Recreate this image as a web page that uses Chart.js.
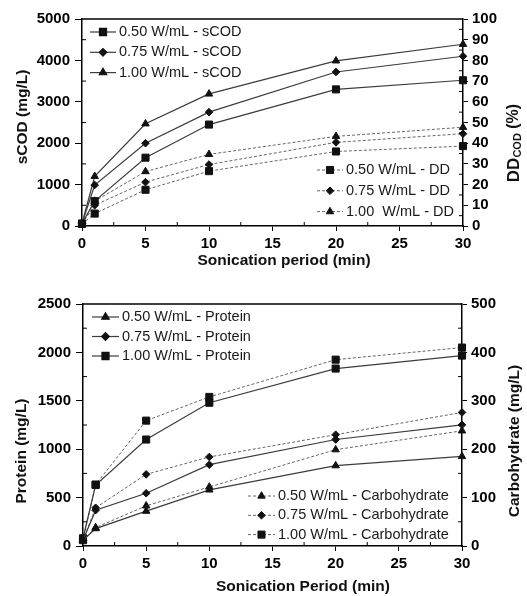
<!DOCTYPE html>
<html>
<head>
<meta charset="utf-8">
<script src="https://cdn.jsdelivr.net/npm/chart.js@4.4.0/dist/chart.umd.min.js"></script>
<style>
  body { margin: 0; background: #fff; }
  canvas { display: block; }
</style>
</head>
<body>
<canvas id="codCanvas" width="527" height="290"></canvas>
<canvas id="protCanvas" width="527" height="306"></canvas>
<script>
const minutes = [0, 1, 5, 10, 20, 30];

// top panel: soluble COD (mg/L) and degree of disintegration (%)
const scod050 = [60, 600, 1650, 2450, 3300, 3520];
const scod075 = [60, 990, 2000, 2750, 3720, 4100];
const scod100 = [60, 1200, 2470, 3190, 3990, 4390];
const dd050 = [1, 6, 17.5, 26.5, 36, 38.6];
const dd075 = [1, 10, 21.2, 29.7, 40.4, 44.6];
const dd100 = [1, 12, 26.3, 34.6, 43.3, 47.7];

// bottom panel: protein and carbohydrate (mg/L)
const prot050 = [60, 180, 360, 580, 830, 925];
const prot075 = [60, 370, 545, 840, 1100, 1252];
const prot100 = [80, 630, 1100, 1480, 1833, 1967];
const carb050 = [12, 38, 83, 122, 199, 238];
const carb075 = [12, 79, 148, 184, 230, 276];
const carb100 = [12, 127, 259, 308, 385, 410];

const codTicks = { left: [0, 5000, 1000], right: [0, 100, 10] };
const protTicks = { left: [0, 2500, 500], right: [0, 500, 100] };

const FONT = '"Liberation Sans", Arial, sans-serif';

const pts = arr => minutes.map((m, i) => ({ x: m, y: arr[i] }));

const series = function(label, arr, shape, dotted, axis){
	const radius = shape === 'rect' ? 5 : (shape === 'rectRot' ? 3.8 : 4.3);
	return {
		label: label,
		data: pts(arr),
		yAxisID: axis,
		borderColor: dotted ? '#666' : '#3c3c3c',
		borderWidth: dotted ? 1 : 1.2,
		borderDash: dotted ? [3, 2] : [],
		pointStyle: shape,
		pointRadius: radius,
		pointHoverRadius: radius,
		pointBackgroundColor: '#111',
		pointBorderColor: '#111',
		pointBorderWidth: 1,
		tension: 0,
		clip: false
	};
};

// the two legend blocks, the box round the plot and the half-step ticks
const decorPlugin = {
	id: 'decor',
	afterDatasetsDraw(chart, args, opts) {
		const ctx = chart.ctx;
		const area = chart.chartArea;

		ctx.save();
		ctx.strokeStyle = '#000';
		ctx.lineWidth = 1.5;
		ctx.beginPath();
		ctx.moveTo(area.left, area.top);
		ctx.lineTo(area.right, area.top);
		ctx.stroke();

		ctx.lineWidth = 1;
		opts.minor.forEach(m => {
			const sc = chart.scales[m.id];
			for (let v = sc.min + m.step / 2; v < sc.max; v += m.step) {
				const p = sc.getPixelForValue(v);
				ctx.beginPath();
				if (m.id === 'x') { ctx.moveTo(p, area.bottom); ctx.lineTo(p, area.bottom - 4); }
				else if (m.id === 'y') { ctx.moveTo(area.left, p); ctx.lineTo(area.left + 4, p); }
				else { ctx.moveTo(area.right, p); ctx.lineTo(area.right - 4, p); }
				ctx.stroke();
			}
		});
		ctx.restore();

		opts.legends.forEach(g => {
			g.items.forEach((idx, i) => {
				const ds = chart.data.datasets[idx];
				const y = g.y + i * g.gap;
				ctx.save();
				ctx.strokeStyle = ds.borderColor;
				ctx.lineWidth = ds.borderWidth;
				ctx.setLineDash(ds.borderDash);
				ctx.beginPath();
				ctx.moveTo(g.x, y);
				ctx.lineTo(g.x + g.len, y);
				ctx.stroke();
				ctx.setLineDash([]);
				ctx.fillStyle = ds.pointBackgroundColor;
				ctx.strokeStyle = ds.pointBorderColor;
				Chart.helpers.drawPoint(ctx, { pointStyle: ds.pointStyle, radius: ds.pointRadius, borderWidth: 1, rotation: 0 }, g.x + g.len / 2, y);
				ctx.fillStyle = '#1a1a1a';
				ctx.font = '14.5px ' + FONT;
				ctx.textBaseline = 'middle';
				ctx.textAlign = 'left';
				ctx.fillText(ds.label, g.x + g.len + 3, y);
				ctx.restore();
			});
		});

		// axis titles, one of them has a subscript
		opts.titles.forEach(t => {
			ctx.save();
			ctx.translate(t.x, t.y);
			ctx.rotate(t.rot);
			let total = 0;
			t.parts.forEach(p => { ctx.font = p.font; p.w = ctx.measureText(p.text).width; total += p.w; });
			let x = -total / 2;
			ctx.fillStyle = '#111';
			ctx.textBaseline = 'middle';
			ctx.textAlign = 'left';
			t.parts.forEach(p => { ctx.font = p.font; ctx.fillText(p.text, x, p.dy || 0); x += p.w; });
			ctx.restore();
		});
	}
};

const tickFont = { family: FONT, size: 15, weight: 'bold' };

const makeAxis = function(range, side, width){
	return {
		type: 'linear',
		position: side,
		min: range[0],
		max: range[1],
		ticks: { stepSize: range[2], autoSkip: false, color: '#000', font: tickFont, padding: side === 'left' ? 5 : 4, callback: v => String(v) },
		grid: { drawOnChartArea: false, color: '#000', tickLength: side === 'left' ? 7 : 5 },
		border: { color: '#000', width: 1.5 },
		afterFit: function(scale){ scale.width = width; }
	};
};

const xAxis = function(height){
	return {
		type: 'linear',
		min: 0,
		max: 30,
		ticks: { stepSize: 5, autoSkip: false, color: '#000', font: tickFont, padding: 4, callback: v => String(v) },
		grid: { drawOnChartArea: false, color: '#000', tickLength: 5 },
		border: { color: '#000', width: 1.5 },
		afterFit: function(scale){ scale.height = height; }
	};
};

const bold = size => 'bold ' + size + 'px ' + FONT;

new Chart(document.querySelector('#codCanvas').getContext('2d'), {
	type: 'line',
	data: {
		datasets: [
			series('0.50 W/mL - sCOD', scod050, 'rect', false, 'y'),
			series('0.75 W/mL - sCOD', scod075, 'rectRot', false, 'y'),
			series('1.00 W/mL - sCOD', scod100, 'triangle', false, 'y'),
			series('0.50 W/mL - DD', dd050, 'rect', true, 'y2'),
			series('0.75 W/mL - DD', dd075, 'rectRot', true, 'y2'),
			series('1.00  W/mL - DD', dd100, 'triangle', true, 'y2')
		]
	},
	options: {
		responsive: false,
		animation: false,
		layout: { padding: { top: 19, left: 0, right: 0, bottom: 0 } },
		scales: {
			x: xAxis(64),
			y: makeAxis(codTicks.left, 'left', 82),
			y2: makeAxis(codTicks.right, 'right', 64)
		},
		plugins: {
			legend: { display: false },
			tooltip: { enabled: false },
			decor: {
				minor: [{ id: 'x', step: 5 }, { id: 'y', step: 1000 }, { id: 'y2', step: 10 }],
				legends: [
					{ items: [0, 1, 2], x: 90, y: 32, gap: 20.3, len: 26 },
					{ items: [3, 4, 5], x: 317, y: 170, gap: 20.8, len: 26 }
				],
				titles: [
					{ x: 284, y: 261, rot: 0, parts: [{ text: 'Sonication period (min)', font: bold(15.5) }] },
					{ x: 23, y: 117, rot: -Math.PI / 2, parts: [{ text: 'sCOD (mg/L)', font: bold(15.5) }] },
					{ x: 514, y: 143, rot: -Math.PI / 2, parts: [
						{ text: 'DD', font: bold(17) },
						{ text: 'COD', font: bold(11) , dy: 4 },
						{ text: ' (%)', font: bold(16) }
					] }
				]
			}
		}
	},
	plugins: [decorPlugin]
});

new Chart(document.querySelector('#protCanvas').getContext('2d'), {
	type: 'line',
	data: {
		datasets: [
			series('0.50 W/mL - Protein', prot050, 'triangle', false, 'y'),
			series('0.75 W/mL - Protein', prot075, 'rectRot', false, 'y'),
			series('1.00 W/mL - Protein', prot100, 'rect', false, 'y'),
			series('0.50 W/mL - Carbohydrate', carb050, 'triangle', true, 'y2'),
			series('0.75 W/mL - Carbohydrate', carb075, 'rectRot', true, 'y2'),
			series('1.00 W/mL - Carbohydrate', carb100, 'rect', true, 'y2')
		]
	},
	options: {
		responsive: false,
		animation: false,
		layout: { padding: { top: 13, left: 0, right: 0, bottom: 0 } },
		scales: {
			x: xAxis(50),
			y: makeAxis(protTicks.left, 'left', 83),
			y2: makeAxis(protTicks.right, 'right', 65)
		},
		plugins: {
			legend: { display: false },
			tooltip: { enabled: false },
			decor: {
				minor: [{ id: 'x', step: 5 }, { id: 'y', step: 500 }, { id: 'y2', step: 100 }],
				legends: [
					{ items: [0, 1, 2], x: 92, y: 27, gap: 19.5, len: 27 },
					{ items: [3, 4, 5], x: 248, y: 206, gap: 19.3, len: 27 }
				],
				titles: [
					{ x: 303, y: 297, rot: 0, parts: [{ text: 'Sonication Period (min)', font: bold(15.5) }] },
					{ x: 22, y: 161, rot: -Math.PI / 2, parts: [{ text: 'Protein (mg/L)', font: bold(15.5) }] },
					{ x: 515, y: 151, rot: -Math.PI / 2, parts: [{ text: 'Carbohydrate (mg/L)', font: bold(15.5) }] }
				]
			}
		}
	},
	plugins: [decorPlugin]
});
</script>
</body>
</html>
